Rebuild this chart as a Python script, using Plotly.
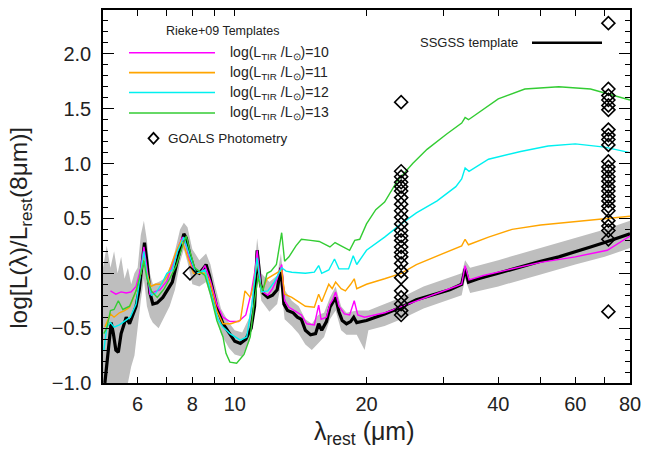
import plotly.graph_objects as go

# ---- SSGSS mean template (black) ----
ssgss_wave = [5.05, 5.12, 5.22, 5.28, 5.35, 5.42, 5.50, 5.60, 5.65, 5.75, 5.85, 5.95, 6.05, 6.15,
              6.22, 6.30, 6.40, 6.50, 6.65, 6.85, 7.0, 7.2, 7.4, 7.55, 7.65, 7.75, 7.9, 8.1, 8.3,
              8.5, 8.6, 8.75, 8.95, 9.1, 9.4, 9.75, 10.0, 10.3, 10.6, 10.9, 11.1, 11.25, 11.45,
              11.6, 11.9, 12.2, 12.5, 12.75, 12.95, 13.2, 13.6, 13.9, 14.2, 14.5, 14.9, 15.3,
              15.55, 15.8, 16.2, 16.5, 16.75, 17.0, 17.3, 17.6, 18.0, 18.4, 18.7, 19.0, 19.5,
              20.0, 22.0, 24.0, 26.0, 28.0, 31.0, 33.0, 33.6, 34.2, 36.0, 40.0, 45.0, 50.0,
              55.0, 60.0, 65.0, 70.0, 75.0, 80.0]
ssgss_val = [-1.0, -0.78, -0.45, -0.55, -0.70, -0.72, -0.55, -0.45, -0.40, -0.46, -0.38, -0.30,
             -0.15, 0.15, 0.28, 0.10, -0.18, -0.28, -0.27, -0.22, -0.16, -0.08, 0.12, 0.28, 0.36,
             0.32, 0.16, 0.02, 0.0, 0.05, 0.08, -0.02, -0.20, -0.31, -0.46, -0.56, -0.62, -0.64,
             -0.60, -0.50, -0.30, 0.21, -0.10, -0.18, -0.22, -0.20, -0.15, 0.05, -0.28, -0.34,
             -0.36, -0.40, -0.42, -0.52, -0.56, -0.55, -0.46, -0.52, -0.44, -0.31, -0.26, -0.22,
             -0.35, -0.43, -0.46, -0.44, -0.40, -0.45, -0.44, -0.43, -0.37, -0.31, -0.24, -0.20,
             -0.15, -0.10, 0.04, -0.08, -0.05, 0.00, 0.06, 0.11, 0.15, 0.20, 0.24, 0.28, 0.32,
             0.36]

# ---- scatter envelope of the SSGSS sample (grey band) ----
band_wave = [5.0, 5.1, 5.2, 5.3, 5.4, 5.5, 5.6, 5.7, 5.8, 5.9, 6.0, 6.1, 6.2, 6.3, 6.4, 6.5,
             6.7, 6.9, 7.1, 7.3, 7.5, 7.65, 7.8, 8.0, 8.3, 8.6, 8.8, 9.0, 9.3, 9.7, 10.0, 10.4,
             10.8, 11.0, 11.25, 11.5, 12.0, 12.5, 12.75, 13.0, 13.5, 14.0, 14.5, 15.0, 15.5,
             16.0, 16.5, 17.0, 17.5, 18.0, 19.0, 19.8, 20.2, 22.0, 24.0, 27.0, 30.0, 33.0,
             33.6, 34.5, 40.0, 50.0, 60.0, 70.0, 80.0]
band_hi = [0.05, 0.25, 0.05, 0.20, 0.0, 0.15, -0.05, 0.05, -0.10, 0.0, 0.05, 0.35, 0.48, 0.30,
           0.0, -0.10, -0.08, -0.05, 0.05, 0.20, 0.40, 0.46, 0.42, 0.22, 0.12, 0.18, 0.08, -0.10,
           -0.32, -0.45, -0.52, -0.54, -0.40, -0.15, 0.32, 0.0, -0.08, -0.02, 0.18, -0.15, -0.25,
           -0.30, -0.42, -0.46, -0.38, -0.36, -0.22, -0.12, -0.30, -0.36, -0.34, -0.34, -0.34,
           -0.28, -0.22, -0.12, -0.06, 0.0, 0.12, 0.05, 0.12, 0.23, 0.32, 0.40, 0.48]
band_lo = [-1.1, -1.1, -1.1, -1.1, -1.1, -1.1, -1.1, -1.0, -0.85, -0.75, -0.5, -0.25, -0.05,
           -0.30, -0.40, -0.45, -0.50, -0.40, -0.30, -0.15, 0.10, 0.22, 0.10, -0.10, -0.12,
           -0.08, -0.20, -0.35, -0.55, -0.68, -0.74, -0.76, -0.62, -0.40, 0.05, -0.25, -0.35,
           -0.28, -0.10, -0.42, -0.48, -0.55, -0.65, -0.70, -0.64, -0.58, -0.42, -0.34, -0.52,
           -0.56, -0.56, -0.70, -0.52, -0.48, -0.42, -0.32, -0.26, -0.20, -0.05, -0.18, -0.12,
           -0.01, 0.08, 0.15, 0.23]

# ---- Rieke+09 templates ----
r10_wave = [5.2, 5.35, 5.5, 5.65, 5.8, 5.95, 6.1, 6.2, 6.3, 6.4, 6.55, 6.75, 7.0, 7.25, 7.45,
            7.6, 7.75, 7.9, 8.1, 8.35, 8.55, 8.8, 9.1, 9.4, 9.75, 10.2, 10.6, 10.9, 11.15,
            11.25, 11.5, 11.9, 12.2, 12.5, 12.8, 13.0, 13.3, 13.8, 14.2, 14.6, 15.2, 15.55,
            15.75, 16.2, 16.5, 16.75, 17.0, 17.3, 17.8, 18.3, 18.75, 19.1, 19.8, 22.0, 25.0,
            28.0, 31.0, 33.0, 33.6, 34.3, 37.0, 42.0, 50.0, 60.0, 71.0, 80.0]
r10_val = [-0.16, -0.19, -0.17, -0.18, -0.17, -0.12, 0.05, 0.24, 0.05, -0.19, -0.17, -0.15,
           -0.07, 0.11, 0.25, 0.33, 0.25, 0.11, 0.0, 0.0, 0.07, -0.07, -0.28, -0.40, -0.44,
           -0.44, -0.38, -0.18, 0.05, 0.21, -0.16, -0.20, -0.14, -0.05, 0.08, -0.25, -0.31,
           -0.35, -0.38, -0.46, -0.47, -0.29, -0.42, -0.40, -0.28, -0.24, -0.17, -0.30, -0.37,
           -0.38, -0.25, -0.38, -0.40, -0.36, -0.28, -0.21, -0.14, -0.10, 0.07, -0.06, -0.02,
           0.03, 0.10, 0.15, 0.21, 0.34]

r11_wave = [5.05, 5.2, 5.3, 5.45, 5.6, 5.75, 5.95, 6.1, 6.2, 6.3, 6.43, 6.6, 6.8, 7.0, 7.2,
            7.35, 7.55, 7.7, 7.85, 8.05, 8.35, 8.6, 8.8, 9.1, 9.4, 9.8, 10.3, 10.55, 10.85,
            11.05, 11.25, 11.5, 11.85, 12.2, 12.5, 12.8, 13.0, 13.5, 14.0, 14.5, 15.2, 15.55,
            15.8, 16.4, 16.7, 17.0, 17.5, 17.9, 18.4, 18.75, 19.0, 20.0, 22.0, 24.0, 26.0,
            29.0, 32.0, 33.0, 33.6, 34.2, 38.0, 43.0, 50.0, 56.0, 65.0, 80.0]
r11_val = [-0.49, -0.37, -0.40, -0.36, -0.34, -0.31, -0.16, 0.0, 0.16, 0.0, -0.12, -0.10,
           -0.10, -0.03, 0.10, 0.20, 0.30, 0.22, 0.12, 0.0, 0.0, 0.0, -0.10, -0.34, -0.46,
           -0.46, -0.43, -0.16, -0.22, -0.10, 0.12, -0.18, -0.05, -0.02, 0.0, 0.03, -0.19,
           -0.22, -0.26, -0.30, -0.31, -0.19, -0.26, -0.10, -0.14, -0.08, -0.14, -0.16, -0.10,
           -0.05, -0.14, -0.10, -0.05, 0.0, 0.08, 0.16, 0.23, 0.25, 0.31, 0.26, 0.33, 0.40,
           0.44, 0.46, 0.49, 0.52]

r12_wave = [5.02, 5.1, 5.2, 5.3, 5.45, 5.6, 5.77, 5.95, 6.1, 6.2, 6.3, 6.45, 6.6, 6.8, 7.0,
            7.2, 7.4, 7.65, 7.9, 8.15, 8.55, 8.85, 9.15, 9.4, 9.75, 10.3, 10.65, 10.95, 11.25,
            11.5, 11.9, 12.3, 12.6, 12.8, 13.1, 13.5, 14.5, 15.2, 15.55, 15.8, 16.4, 16.9,
            17.3, 18.2, 18.65, 19.0, 20.0, 22.0, 24.0, 26.0, 29.0, 32.0, 33.0, 33.6, 34.3,
            38.0, 45.0, 52.0, 60.0, 70.0, 80.0]
r12_val = [-0.71, -0.49, -0.45, -0.49, -0.47, -0.44, -0.40, -0.28, 0.0, 0.20, -0.02, -0.20,
           -0.18, -0.10, 0.0, 0.03, 0.20, 0.33, 0.15, 0.0, 0.03, -0.19, -0.42, -0.49, -0.55,
           -0.61, -0.58, -0.28, 0.14, -0.17, -0.16, -0.08, 0.0, 0.05, 0.02, 0.01, 0.0, 0.01,
           0.07, 0.0, 0.03, 0.13, 0.04, 0.04, 0.16, 0.08, 0.21, 0.33, 0.45, 0.55, 0.66, 0.79,
           0.86, 0.96, 0.93, 1.04, 1.11, 1.16, 1.18, 1.15, 1.10]

r13_wave = [5.02, 5.1, 5.2, 5.3, 5.42, 5.55, 5.75, 5.95, 6.1, 6.2, 6.3, 6.45, 6.65, 6.9, 7.1,
            7.35, 7.6, 7.75, 7.9, 8.1, 8.55, 8.8, 9.1, 9.4, 9.55, 9.75, 10.1, 10.5, 10.85,
            11.05, 11.3, 11.6, 11.85, 12.1, 12.45, 12.8, 13.0, 13.3, 13.8, 14.2, 14.9, 15.6,
            16.5, 16.95, 17.5, 18.3, 18.8, 19.3, 20.0, 21.0, 22.0, 23.5, 25.5, 27.5, 30.5,
            33.0, 33.6, 34.2, 40.0, 46.0, 55.0, 65.0, 80.0]
r13_val = [-0.55, -0.50, -0.34, -0.33, -0.25, -0.33, -0.30, -0.16, 0.0, 0.11, -0.05, -0.16,
           -0.22, -0.14, -0.05, 0.07, 0.25, 0.34, 0.20, 0.05, -0.02, -0.19, -0.43, -0.58,
           -0.73, -0.81, -0.82, -0.74, -0.58, -0.30, -0.04, -0.16, 0.0, 0.02, 0.08, 0.37, 0.11,
           0.15, 0.25, 0.31, 0.30, 0.29, 0.24, 0.28, 0.25, 0.21, 0.30, 0.31, 0.45, 0.58, 0.65,
           0.84, 1.00, 1.13, 1.27, 1.37, 1.42, 1.40, 1.59, 1.68, 1.70, 1.68, 1.58]

# ---- GOALS photometry ----
goals_8_wave = [7.9]
goals_8_val = [0.0]
goals_24_val = [1.56, 0.93, 0.88, 0.83, 0.79, 0.75, 0.69, 0.63, 0.57, 0.51, 0.45, 0.39, 0.34,
                0.30, 0.24, 0.19, 0.15, 0.09, 0.02, -0.04, -0.16, -0.22, -0.28, -0.34, -0.38]
goals_70_val = [2.28, 1.68, 1.62, 1.58, 1.53, 1.49, 1.31, 1.26, 1.22, 1.17, 1.02, 0.97, 0.93,
                0.88, 0.84, 0.79, 0.75, 0.70, 0.66, 0.61, 0.57, 0.48, 0.43, 0.39, 0.31, -0.35]
goals_24_wave = 24.0
goals_70_wave = 71.4

template_colors = ["#ff00ff", "#ffa500", "#00f0f0", "#33cc33"]
template_names = ["10", "11", "12", "13"]
templates = [(r10_wave, r10_val), (r11_wave, r11_val), (r12_wave, r12_val), (r13_wave, r13_val)]

FONT = "Liberation Sans, Arial, Helvetica, sans-serif"

fig = go.Figure()

# grey envelope
fig.add_trace(go.Scatter(
    x=band_wave + band_wave[::-1], y=band_hi + band_lo[::-1],
    fill="toself", fillcolor="#bebebe", line=dict(width=0), mode="lines",
    hoverinfo="skip", showlegend=False))

# SSGSS mean template
fig.add_trace(go.Scatter(x=ssgss_wave, y=ssgss_val, mode="lines",
                         line=dict(color="black", width=3.2), showlegend=False))

for (w, v), c in zip(templates, template_colors):
    fig.add_trace(go.Scatter(x=w, y=v, mode="lines", line=dict(color=c, width=1.4),
                             showlegend=False))

# photometry
diamond = dict(symbol="diamond-open", size=10, color="black", line=dict(width=1.6, color="black"))
fig.add_trace(go.Scatter(x=goals_8_wave, y=goals_8_val, mode="markers", marker=diamond,
                         showlegend=False))
fig.add_trace(go.Scatter(x=[goals_24_wave] * len(goals_24_val), y=goals_24_val, mode="markers",
                         marker=diamond, showlegend=False))
fig.add_trace(go.Scatter(x=[goals_70_wave] * len(goals_70_val), y=goals_70_val, mode="markers",
                         marker=diamond, showlegend=False))

x_ticks = [6, 7, 8, 9, 10, 20, 30, 40, 50, 60, 70, 80]
x_text = ["6", "", "8", "", "10", "20", "", "40", "", "60", "", "80"]

fig.update_xaxes(
    type="log", range=[0.69897, 1.90309], tickmode="array", tickvals=x_ticks, ticktext=x_text,
    ticks="inside", ticklen=6, tickwidth=1, tickcolor="black", mirror="ticks",
    showline=True, linecolor="black", linewidth=1.5, showgrid=False, zeroline=False,
    tickfont=dict(family=FONT, size=20, color="#222"), ticklabelstandoff=2)
fig.update_yaxes(
    range=[-1.0, 2.4], tickmode="linear", tick0=0, dtick=0.5, tickformat=".1f",
    ticks="inside", ticklen=11, tickwidth=1, tickcolor="black", mirror="ticks",
    minor=dict(tickmode="linear", tick0=0, dtick=0.1, ticks="inside", ticklen=5,
               tickcolor="black", tickwidth=1),
    showline=True, linecolor="black", linewidth=1.5, showgrid=False, zeroline=False,
    tickfont=dict(family=FONT, size=20, color="#222"), ticklabelstandoff=6)

L, R, T, B = 103, 21, 8, 68
W, H = 651, 451
pw, ph = W - L - R, H - T - B


def px(x):
    return (x - L) / pw


def py(y):
    return (H - B - y) / ph


ann = []
shapes = []
ann.append(dict(text="log[L(λ)/L<sub>rest</sub>(8μm)]", x=px(21), y=py(227), xref="paper",
                yref="paper", showarrow=False, textangle=-90,
                font=dict(family=FONT, size=24.5, color="#222"), xanchor="center",
                yanchor="middle"))
ann.append(dict(text="λ<sub>rest</sub> (μm)", x=px(364), y=py(433), xref="paper",
                yref="paper", showarrow=False, font=dict(family=FONT, size=25, color="#222"),
                xanchor="center", yanchor="middle"))

# legend block: Rieke+09 templates
ann.append(dict(text="Rieke+09 Templates", x=px(222), y=py(29), xref="paper", yref="paper",
                showarrow=False, font=dict(family=FONT, size=12.5, color="#222"),
                xanchor="center", yanchor="middle"))
for i, (c, n) in enumerate(zip(template_colors, template_names)):
    yy = [51, 71, 91, 111.5][i]
    shapes.append(dict(type="line", xref="paper", yref="paper", x0=px(129), x1=px(215),
                       y0=py(yy), y1=py(yy), line=dict(color=c, width=1.6)))
    ann.append(dict(text=f"log(L<sub>TIR</sub> /L<sub>⊙</sub>)={n}", x=px(228), y=py(yy),
                    xref="paper", yref="paper", showarrow=False, xanchor="left",
                    yanchor="middle", font=dict(family=FONT, size=14, color="#222")))
dx, dy = 5 / pw, 5.5 / ph
cx, cy = px(153.5), py(137)
shapes.append(dict(type="path", xref="paper", yref="paper",
                   path=f"M {cx-dx},{cy} L {cx},{cy+dy} L {cx+dx},{cy} L {cx},{cy-dy} Z",
                   line=dict(color="black", width=1.8)))
ann.append(dict(text="GOALS Photometry", x=px(166), y=py(137), xref="paper", yref="paper",
                showarrow=False, xanchor="left", yanchor="middle",
                font=dict(family=FONT, size=13.5, color="#222")))

# SSGSS legend entry
ann.append(dict(text="SSGSS template", x=px(520), y=py(41), xref="paper", yref="paper",
                showarrow=False, xanchor="right", yanchor="middle",
                font=dict(family=FONT, size=13, color="#222")))
shapes.append(dict(type="line", xref="paper", yref="paper", x0=px(532), x1=px(602),
                   y0=py(41), y1=py(41), line=dict(color="black", width=2.5)))

fig.update_layout(
    width=W, height=H, margin=dict(l=L, r=R, t=T, b=B, pad=0),
    paper_bgcolor="white", plot_bgcolor="white", showlegend=False,
    annotations=ann, shapes=shapes)

fig.write_html("out.html")
